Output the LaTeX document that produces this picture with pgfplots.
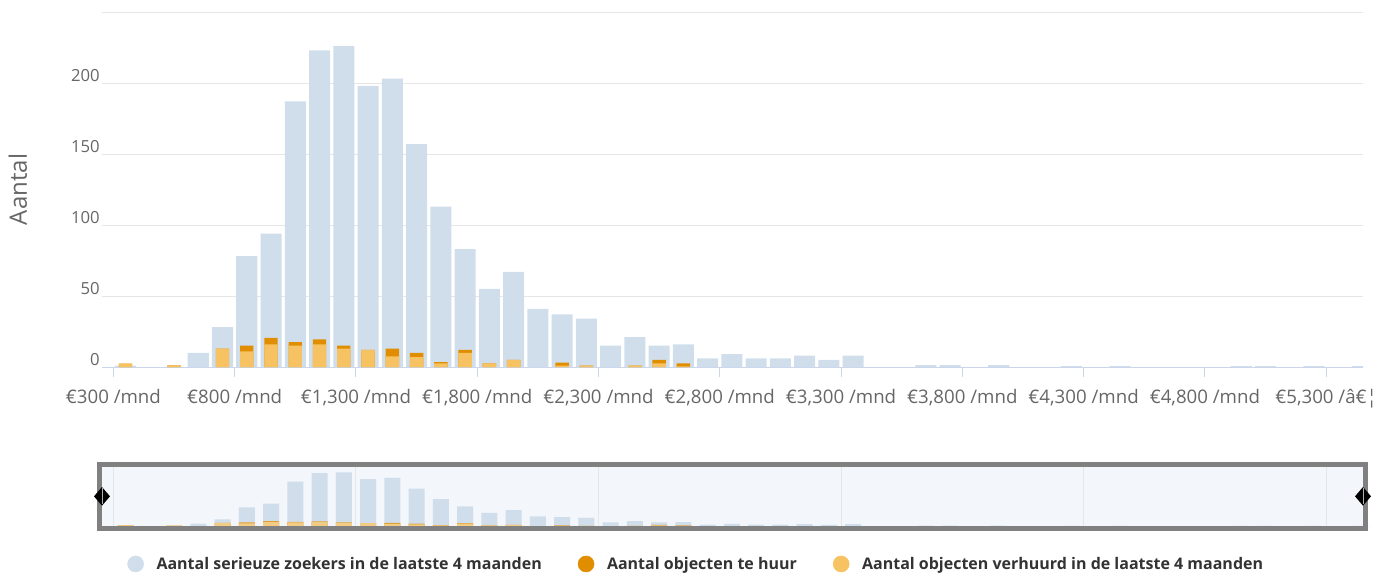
\documentclass[border=0pt]{standalone}
\usepackage{pgfplots}
\pgfplotsset{compat=1.18}
\usepackage{pgfplotstable}
\usepackage{fontspec}
\setmainfont{Open Sans}
\definecolor{seek}{HTML}{D0DEEC}
\definecolor{huur}{HTML}{E08D00}
\definecolor{verh}{HTML}{F7C262}
\definecolor{gridc}{HTML}{E6E6E6}
\definecolor{axisc}{HTML}{CCD6EB}
\definecolor{lbl}{HTML}{666666}
\definecolor{leg}{HTML}{333333}
\definecolor{navbg}{HTML}{F3F6FA}
\definecolor{navframe}{HTML}{808080}
\definecolor{navhuur}{HTML}{E0A035}
\definecolor{navverh}{HTML}{F2CB85}

% bin centre (EUR), number of serious seekers
\pgfplotstableread{
x y
350 1
650 10
750 28
850 78
950 94
1050 187
1150 223
1250 226
1350 198
1450 203
1550 157
1650 113
1750 83
1850 55
1950 67
2050 41
2150 37
2250 34
2350 15
2450 21
2550 15
2650 16
2750 6
2850 9
2950 6
3050 6
3150 8
3250 5
3350 8
3650 1.3
3750 1.3
3950 1.3
4250 0.7
4450 0.7
4950 0.7
5050 0.7
5250 0.7
5450 0.7
}\seekers

% bin centre, rented in last 4 months, for rent
\pgfplotstableread{
x verh huur
350 2.4 0
550 1.2 0
750 13 0
850 11 4
950 16 4.5
1050 15 2.5
1150 16 3.5
1250 13 2
1350 12 0
1450 7.5 5.5
1550 7 3
1650 2.5 1
1750 10 2
1850 2.5 0
1950 5 0
2150 1 2
2250 1 0
2450 1 0
2550 2.5 2.5
2650 0.5 2
}\objecten

\begin{document}
\begin{tikzpicture}
\path[use as bounding box] (-76.5pt,-156pt) rectangle (957.75pt,275.25pt);

\begin{axis}[
  name=main,
  at={(0pt,0pt)}, anchor=south west,
  scale only axis, width=945.75pt, height=266.25pt,
  xmin=253, xmax=5452, ymin=0, ymax=250,
  axis x line*=bottom, axis y line*=left,
  x axis line style={draw=axisc, line width=0.75pt, -},
  y axis line style={draw=none},
  ytick={0,50,100,150,200,250},
  yticklabels={0,50,100,150,200,{}},
  ymajorgrids, grid style={draw=gridc, line width=0.75pt},
  xtick={300,800,1300,1800,2300,2800,3300,3800,4300,4800,5300},
  xticklabels={{€300 /mnd},{€800 /mnd},{€1,300 /mnd},{€1,800 /mnd},{€2,300 /mnd},{€2,800 /mnd},{€3,300 /mnd},{€3,800 /mnd},{€4,300 /mnd},{€4,800 /mnd},{€5,300 /â€¦}},
  tick align=outside,
  x tick style={draw=axisc, line width=0.75pt},
  y tick style={draw=none},
  major tick length=7.5pt,
  xticklabel style={font=\fontsize{14}{16}\selectfont, text=lbl, anchor=north, inner sep=0pt, yshift=-9pt},
  yticklabel style={font=\fontsize{12.5}{14}\selectfont, text=lbl, anchor=east, inner sep=0pt, xshift=6pt, yshift=5.25pt},
  /pgf/number format/assume math mode=true,
  ylabel={Aantal},
  ylabel style={font=\fontsize{18}{20}\selectfont, text=lbl, at={(axis description cs:0,0.5)}, anchor=center, yshift=63pt},
]
\addplot[ybar, bar width=87, bar shift=0pt, fill=seek, draw=none] table[x=x,y=y]{\seekers};
\addplot[ybar, bar width=55, bar shift=0pt, fill=huur, draw=none] table[x=x, y expr=\thisrow{verh}+\thisrow{huur}]{\objecten};
\addplot[ybar, bar width=55, bar shift=0pt, fill=verh, draw=none] table[x=x,y=verh]{\objecten};
\end{axis}

\begin{axis}[
  name=nav,
  at={(0pt,-119.25pt)}, anchor=south west,
  scale only axis, width=945.75pt, height=44.5pt,
  xmin=253, xmax=5452, ymin=0, ymax=250,
  axis line style={draw=none},
  axis background/.style={fill=navbg},
  xtick={300,1300,2300,3300,4300,5300}, xticklabels={},
  ytick=\empty,
  xmajorgrids, grid style={draw=gridc, line width=0.75pt},
  major tick length=0pt, x tick style={draw=none},
  clip=false,
  legend columns=3,
  legend style={at={(0.4715,-0.64)}, anchor=center, draw=none, fill=none,
    font=\bfseries\fontsize{12}{14}\selectfont, text=leg,
    /tikz/every even column/.append style={column sep=25pt},
    /tikz/every odd column/.append style={column sep=7.5pt}},
  legend cell align=left,
]
\addplot[ybar, bar width=66, bar shift=0pt, fill=seek, draw=none, forget plot] table[x=x,y=y]{\seekers};
\addplot[ybar, bar width=66, bar shift=0pt, fill=navhuur, draw=none, forget plot] table[x=x, y expr=\thisrow{verh}+\thisrow{huur}]{\objecten};
\addplot[ybar, bar width=66, bar shift=0pt, fill=navverh, draw=none, forget plot] table[x=x,y=verh]{\objecten};
\addlegendimage{legend image code/.code={\fill[seek] (0pt,0pt) circle (6pt);}}
\addlegendentry{Aantal serieuze zoekers in de laatste 4 maanden}
\addlegendimage{legend image code/.code={\fill[huur] (0pt,0pt) circle (6pt);}}
\addlegendentry{Aantal objecten te huur}
\addlegendimage{legend image code/.code={\fill[verh] (0pt,0pt) circle (6pt);}}
\addlegendentry{Aantal objecten verhuurd in de laatste 4 maanden}
\draw[navframe, line width=3.5pt] ([xshift=-1.75pt,yshift=-1.75pt]rel axis cs:0,0) rectangle ([xshift=1.75pt,yshift=1.75pt]rel axis cs:1,1);
\fill[black] ([xshift=-6pt]rel axis cs:0,0.5) -- ([yshift=7pt]rel axis cs:0,0.5) -- ([xshift=6pt]rel axis cs:0,0.5) -- ([yshift=-7pt]rel axis cs:0,0.5) -- cycle;
\fill[black] ([xshift=-6pt]rel axis cs:1,0.5) -- ([yshift=7pt]rel axis cs:1,0.5) -- ([xshift=6pt]rel axis cs:1,0.5) -- ([yshift=-7pt]rel axis cs:1,0.5) -- cycle;
\draw[gray!60, line width=0.5pt] ([yshift=-6pt]rel axis cs:0,0.5) -- ([yshift=6pt]rel axis cs:0,0.5);
\draw[gray!60, line width=0.5pt] ([yshift=-6pt]rel axis cs:1,0.5) -- ([yshift=6pt]rel axis cs:1,0.5);
\end{axis}
\end{tikzpicture}
\end{document}
